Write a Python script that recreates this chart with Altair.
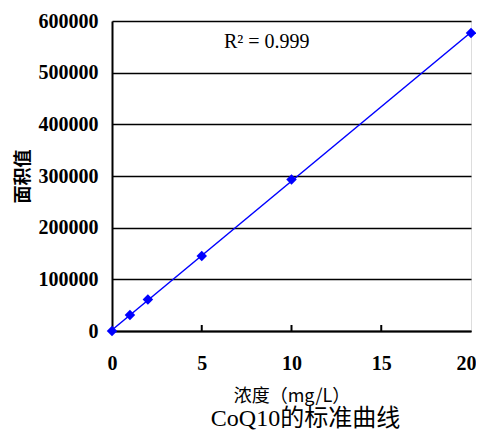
import altair as alt
import pandas as pd

conc = [0, 1, 2, 5, 10, 20]
area = [0, 31000, 61000, 145000, 293000, 577000]
x_ticks = [0, 5, 10, 15, 20]
y_ticks = [0, 100000, 200000, 300000, 400000, 500000, 600000]

df = pd.DataFrame({"conc": conc, "area": area})
tick_df = pd.DataFrame({"t": x_ticks[1:-1]})

W, H = 359, 310
serif = "Times New Roman, Liberation Serif, serif"
mixed = "Times New Roman, Liberation Serif, Noto Sans CJK SC"

xs = alt.Scale(domain=[0, 20], nice=False)
ys = alt.Scale(domain=[0, 600000], nice=False)

base = alt.Chart(df)

line = base.transform_regression("conc", "area", extent=[0, 20]).mark_line(
    color="#0000ff", strokeWidth=1.5
).encode(
    x=alt.X("conc:Q", scale=xs,
            axis=alt.Axis(values=x_ticks, title="浓度（mg/L）", grid=False, ticks=False,
                          format="d", labelFlush=False,
                          labelAlign={"condition": {"test": "datum.value == 20", "value": "right"},
                                      "value": "center"},
                          labelOffset={"condition": {"test": "datum.value == 20", "value": 5},
                                       "value": 0},
                          labelFont=serif, labelFontWeight="bold", labelFontSize=20,
                          labelColor="black", labelPadding=22,
                          domainColor="black", domainWidth=2,
                          titleFont="Noto Sans CJK SC", titleFontWeight="normal",
                          titleFontSize=18, titleColor="black", titlePadding=14)),
    y=alt.Y("area:Q", scale=ys,
            axis=alt.Axis(values=y_ticks, title="面积值", grid=True, ticks=False,
                          format="d", labelFlush=False,
                          gridColor="black", gridWidth=1.5, gridOpacity=1,
                          labelFont=serif, labelFontWeight="bold", labelFontSize=20,
                          labelColor="black", labelPadding=14,
                          domainColor="black", domainWidth=2,
                          titleFont="Noto Sans CJK SC", titleFontWeight="bold",
                          titleFontSize=18, titleColor="black", titlePadding=6)),
)

pts = base.mark_point(shape="diamond", filled=True, color="#0000ff", size=110, opacity=1).encode(
    x=alt.X("conc:Q", scale=xs),
    y=alt.Y("area:Q", scale=ys),
)

ticks = alt.Chart(tick_df).mark_rule(color="black", strokeWidth=2).encode(
    x=alt.X("t:Q", scale=xs),
    y=alt.value(H - 6),
    y2=alt.value(H),
)

r2 = alt.Chart(pd.DataFrame({"label": ["R² = 0.999"]})).mark_text(
    font=serif, fontSize=20, color="black", align="left", baseline="middle"
).encode(
    text="label:N",
    x=alt.value(112),
    y=alt.value(21),
)

chart = alt.layer(line, pts, ticks, r2).properties(
    width=W, height=H,
    autosize=alt.AutoSizeParams(type="none"),
    padding={"left": 104, "top": 13, "right": 5, "bottom": 100},
    title=alt.TitleParams("CoQ10的标准曲线", orient="bottom", anchor="middle",
                          font=mixed, fontSize=24, fontWeight="normal", color="black",
                          offset=2, dx=14),
).configure_view(stroke="#888888", strokeWidth=1.5).configure(background="white")

chart.save("out.html", embed_options={"renderer": "svg", "actions": False})
